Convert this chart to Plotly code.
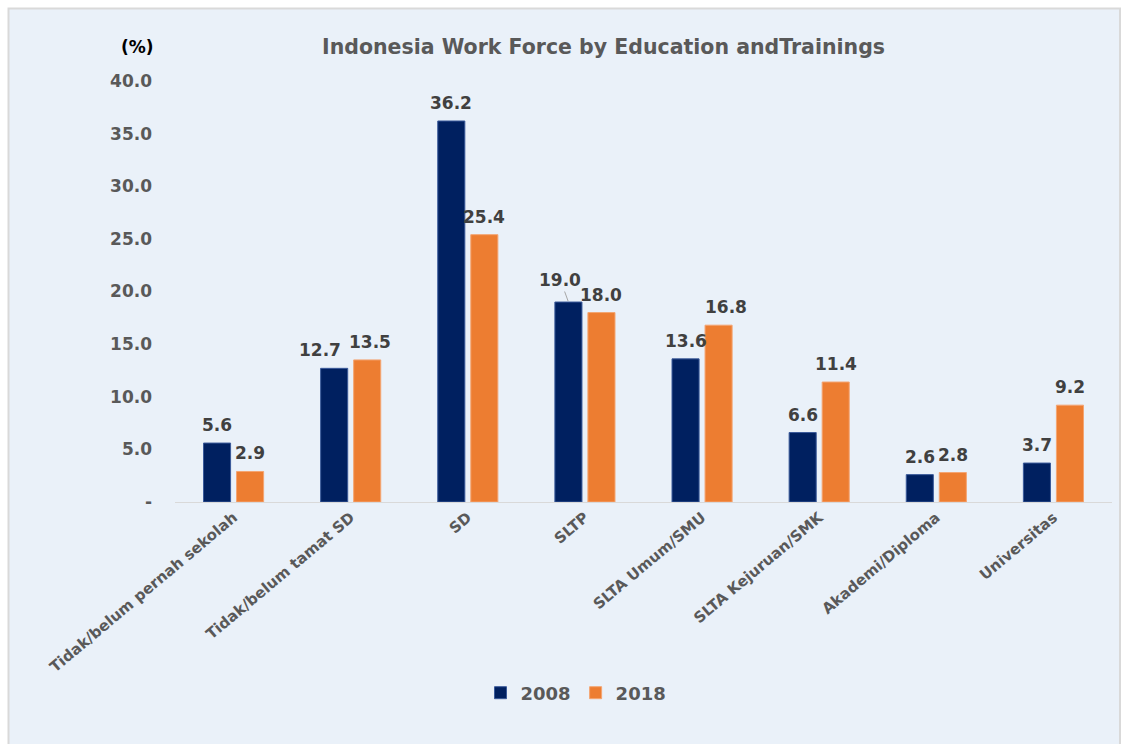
import plotly.graph_objects as go

categories = ["Tidak/belum pernah sekolah", "Tidak/belum tamat SD", "SD", "SLTP",
              "SLTA Umum/SMU", "SLTA Kejuruan/SMK", "Akademi/Diploma", "Universitas"]
values_2008 = [5.6, 12.7, 36.2, 19.0, 13.6, 6.6, 2.6, 3.7]
values_2018 = [2.9, 13.5, 25.4, 18.0, 16.8, 11.4, 2.8, 9.2]
tick_vals = [0, 5, 10, 15, 20, 25, 30, 35, 40]
tick_text = ["-", "5.0", "10.0", "15.0", "20.0", "25.0", "30.0", "35.0", "40.0"]

FONT = "DejaVu Sans"
GRAY = "#595959"
LABEL = "#404040"
LABEL_SIZE = 17

series = [("2008", values_2008, "#002060", "#3a5a9a"),
          ("2018", values_2018, "#ED7D31", "#f4a572")]

# Styling only: pixel offset of each series' bar from its category centre,
# and small label nudges (like the hand-moved labels of the original)
bar_offset_px = {"2008": -16.5, "2018": 16.5}
label_nudge_px = {("2008", "Tidak/belum tamat SD"): -14,
                  ("2018", "Tidak/belum tamat SD"): 3,
                  ("2018", "SLTA Umum/SMU"): 7}
leader_label = ("2008", "SLTP")

fig = go.Figure()
annotations = []
for name, vals, color, edge in series:
    fig.add_trace(go.Bar(name=name, x=categories, y=vals,
                         marker=dict(color=color, line=dict(color=edge, width=1))))
    for c, v in zip(categories, vals):
        if (name, c) == leader_label:
            annotations.append(dict(
                text=f"{v:.1f}", x=c, y=v, xref="x", yref="y",
                xshift=bar_offset_px[name], showarrow=True, arrowhead=0, arrowwidth=1,
                arrowcolor="#A6A6A6", ax=-8, ay=-22, standoff=1,
                font=dict(family=FONT, size=LABEL_SIZE, color=LABEL, weight="bold")))
        else:
            annotations.append(dict(
                text=f"{v:.1f}", x=c, y=v, xref="x", yref="y", showarrow=False,
                xanchor="center", yanchor="bottom", yshift=6,
                xshift=bar_offset_px[name] + label_nudge_px.get((name, c), 0),
                font=dict(family=FONT, size=LABEL_SIZE, color=LABEL, weight="bold")))

L, R, T, B = 175, 16, 81, 242
W, H = 1128, 744
pw, ph = W - L - R, H - T - B

def px(x):
    return (x - L) / pw

def py(y):
    return (H - B - y) / ph

annotations += [
    dict(text="Indonesia Work Force by Education andTrainings", xref="paper", yref="paper",
         x=px(603), y=py(47), xanchor="center", yanchor="middle", showarrow=False,
         font=dict(family=FONT, size=20.5, color=GRAY, weight="bold")),
    dict(text="(%)", xref="paper", yref="paper", x=px(137), y=py(47), xanchor="center",
         yanchor="middle", showarrow=False,
         font=dict(family=FONT, size=17, color="#000000", weight="bold")),
]

fig.update_layout(
    width=W, height=H,
    margin=dict(l=L, r=R, t=T, b=B),
    paper_bgcolor="white",
    plot_bgcolor="rgba(0,0,0,0)",
    barmode="group", bargap=0.436, bargroupgap=0.18,
    font=dict(family=FONT, color=GRAY),
    showlegend=True,
    legend=dict(orientation="h", x=px(576), xanchor="center", y=py(693), yanchor="middle",
                font=dict(family=FONT, size=18, color=GRAY, weight="bold"),
                bgcolor="rgba(0,0,0,0)", itemwidth=30, traceorder="normal"),
    xaxis=dict(tickangle=-40, tickfont=dict(family=FONT, size=15, color=GRAY, weight="bold"),
               showline=True, linecolor="#D9D9D9", linewidth=1, showgrid=False, ticks=""),
    yaxis=dict(range=[0, 40], tickvals=tick_vals, ticktext=tick_text, showgrid=False,
               zeroline=False, showline=False, ticks="", ticklabelstandoff=22,
               tickfont=dict(family=FONT, size=17, color=GRAY, weight="bold")),
    shapes=[dict(type="rect", xref="paper", yref="paper", x0=px(8.5), x1=px(1120), y0=py(760), y1=py(8.5),
                 fillcolor="#EAF1F9", line=dict(color="#D9D9D9", width=2), layer="below")],
    annotations=annotations,
)

fig.write_html("out.html")
